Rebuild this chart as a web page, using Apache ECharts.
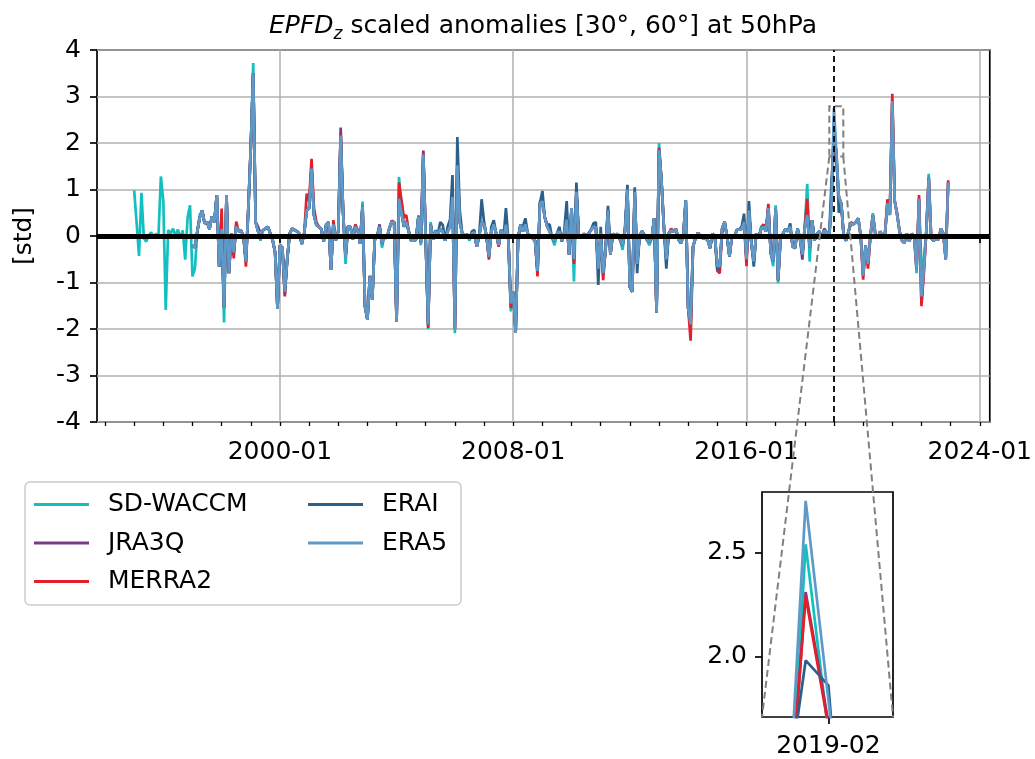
<!DOCTYPE html>
<html>
<head>
<meta charset="utf-8">
<script src="https://cdn.jsdelivr.net/npm/echarts@6/dist/echarts.min.js"></script>
<style>
  html, body { margin: 0; padding: 0; background: #fff; }
  #ec { width: 1035px; height: 759px; }
</style>
</head>
<body>
<div id="ec"></div>
<script>
// monthly scaled anomalies, one row per year (Jan .. Dec)
const waccmStart = 1995;
const sdWaccm = [
  0.98, 0.3, -0.43, 0.93, -0.05, -0.12, 0.02, 0.08, -0.05, 0.05, 0.0, 1.28,
  0.75, -1.59, 0.13, 0.05, 0.16, 0.0, 0.14, -0.05, 0.12, -0.51, 0.4, 0.66,
  -0.87, -0.7, 0.1, 0.45, 0.55, 0.27, 0.3, 0.15, 0.42, 0.3, 0.88, -0.66,
  0.15, -1.86, 0.88, -0.8, 0.05, -0.35, 0.2, 0.1, 0.12, 0.0, -0.55, 0.6,
  1.9, 3.72, 0.3, 0.1, -0.1, 0.12, 0.16, 0.2, 0.06, -0.09, -0.35, -1.57,
  -0.2, -0.25, -1.2, -0.5, 0.05, 0.16, 0.13, 0.1, 0.05, -0.17, 0.06, 0.55,
  0.6, 1.4, 0.45, 0.24, 0.2, 0.15, -0.12, 0.24, 0.3, -0.73, 0.25, -0.09,
  0.1, 2.15, 0.5, -0.6, 0.2, 0.2, -0.07, 0.2, 0.13, -0.16, 0.74, -1.51,
  -1.8, -0.9, -1.37, -0.09, 0.0, 0.2, -0.25, 0.02, -0.05, 0.16, 0.3, 0.3,
  -1.84, 1.27, 0.5, 0.2, 0.3, 0.1, -0.1, -0.1, -0.08, 0.45, -0.2, 1.75,
  -0.1, -2.0, 0.3, -0.08, 0.1, 0.05, 0.15, 0.1, -0.1, 0.1, 0.2, 0.84,
  -2.09, 1.52, 0.3, 0.06, 0.0, 0.03, -0.1, 0.05, 0.08, -0.23, 0.0, 0.3,
  0.25, 0.0, -0.45, 0.1, 0.25, 0.05, -0.2, 0.13, -0.05, 0.24, -0.08, -1.62,
  -1.2, -2.07, -0.05, 0.24, 0.1, 0.25, 0.05, 0.0, -0.05, -0.1, -0.75, 0.75,
  0.75, 0.4, 0.2, 0.1, -0.05, -0.2, 0.05, 0.1, -0.1, 0.05, 0.35, -0.4,
  0.6, -0.98, 0.95, 0.0, -0.03, 0.05, 0.0, 0.05, 0.13, 0.2, 0.18, -0.7,
  0.05, -0.8, -0.3, 0.55, -0.4, 0.05, 0.0, 0.05, -0.08, -0.3, 0.1, 1.0,
  -1.1, -1.2, 0.95, -0.6, 0.0, 0.1, 0.02, -0.08, -0.2, -0.05, 0.38, -1.65,
  2.0, 1.2, 0.2, -0.5, 0.05, 0.12, 0.1, 0.15, -0.08, -0.15, 0.0, 0.77,
  -1.55, -1.95, -0.23, -0.05, 0.07, 0.0, -0.05, -0.05, -0.08, -0.26, 0.05, -0.02,
  -0.65, -0.65, 0.16, 0.3, -0.02, -0.44, 0.0, -0.03, 0.13, 0.14, 0.15, 0.3,
  -0.5, 0.55, -0.15, -0.55, 0.05, -0.05, 0.2, 0.25, 0.1, 0.6, -0.37, -0.65,
  0.66, -1.01, -0.05, 0.05, 0.15, 0.1, 0.2, -0.23, -0.26, 0.16, -0.05, -0.4,
  0.2, 1.12, -0.55, 0.34, -0.1, 0.05, 0.1, -0.05, 0.12, 0.08, -0.05, 0.6,
  2.54, 1.63, 0.84, 0.7, 0.0, -0.1, 0.1, 0.28, 0.25, 0.3, 0.38, 0.0,
  -0.85, -0.2, -0.6, 0.0, 0.49, 0.05, -0.05, 0.1, 0.0, 0.05, 0.7, 0.45,
  2.9, 0.75, 0.45, 0.1, -0.1, -0.15, 0.05, -0.12, 0.05, 0.0, -0.8, 0.8,
  -0.7, -0.5, 0.1, 1.34, -0.05, -0.1, -0.05, -0.08, 0.16, 0.05, -0.5, 1.15
];

// reanalyses start 1997-01
const reStart = 1997;
const jra3q = [
  -0.2, -0.25, 0.1, 0.4, 0.55, 0.27, 0.3, 0.15, 0.42, 0.3, 0.88, -0.66,
  0.15, -1.55, 0.88, -0.8, 0.05, -0.35, 0.2, 0.1, 0.12, 0.0, -0.55, 0.6,
  1.9, 3.5, 0.3, 0.2, 0.05, 0.12, 0.16, 0.2, 0.06, -0.09, -0.35, -1.57,
  -0.2, -0.25, -1.3, -0.5, 0.05, 0.16, 0.13, 0.1, 0.05, -0.17, 0.06, 0.55,
  0.6, 1.5, 0.45, 0.24, 0.2, 0.15, -0.12, 0.24, 0.3, -0.73, 0.25, -0.09,
  0.1, 2.33, 0.5, -0.45, 0.2, 0.2, -0.07, 0.2, 0.13, -0.16, 0.65, -1.51,
  -1.8, -0.87, -1.37, -0.09, 0.0, 0.25, -0.16, 0.02, -0.05, 0.16, 0.3, 0.3,
  -1.84, 0.8, 0.77, 0.2, 0.3, 0.1, -0.1, -0.1, -0.08, 0.41, -0.15, 1.84,
  -0.1, -1.9, 0.25, -0.08, 0.1, 0.05, 0.15, 0.1, -0.1, 0.1, 0.2, 0.84,
  -2.0, 1.52, 0.3, 0.06, 0.0, 0.03, -0.05, 0.05, 0.08, -0.23, 0.0, 0.3,
  0.25, 0.0, -0.45, 0.1, 0.25, 0.05, -0.2, 0.13, -0.05, 0.24, -0.08, -1.45,
  -1.2, -2.07, -0.05, 0.24, 0.1, 0.25, 0.05, 0.0, -0.05, -0.1, -0.75, 0.7,
  0.75, 0.4, 0.2, 0.1, -0.05, -0.1, 0.05, 0.1, -0.1, 0.05, 0.35, -0.4,
  0.6, -0.5, 0.95, 0.0, -0.03, 0.05, 0.0, 0.05, 0.13, 0.2, 0.18, -0.7,
  0.05, -0.8, -0.3, 0.55, -0.4, 0.05, 0.0, 0.05, -0.08, -0.2, 0.1, 1.0,
  -1.1, -1.2, 0.95, -0.6, 0.0, 0.1, 0.02, -0.08, -0.12, -0.05, 0.38, -1.65,
  1.85, 1.2, 0.2, -0.5, 0.05, 0.12, 0.1, 0.15, -0.08, -0.15, 0.0, 0.77,
  -1.55, -2.0, -0.23, -0.05, 0.07, 0.0, -0.05, -0.05, -0.08, -0.26, 0.05, -0.02,
  -0.65, -0.65, 0.16, 0.3, -0.02, -0.44, 0.0, -0.03, 0.13, 0.14, 0.15, 0.3,
  -0.5, 0.55, -0.15, -0.55, 0.05, -0.05, 0.15, 0.2, 0.1, 0.6, -0.37, -0.55,
  0.6, -0.95, -0.05, 0.05, 0.15, 0.1, 0.2, -0.23, -0.26, 0.16, -0.05, -0.51,
  0.2, 0.45, -0.25, 0.34, -0.1, 0.05, 0.1, -0.05, 0.16, 0.08, -0.05, 0.8,
  2.31, 1.68, 0.84, 0.7, 0.0, -0.1, 0.1, 0.28, 0.25, 0.3, 0.38, 0.0,
  -0.85, -0.2, -0.6, 0.0, 0.45, 0.05, -0.05, 0.1, 0.0, 0.05, 0.7, 0.45,
  2.9, 0.75, 0.45, 0.1, -0.1, -0.15, 0.05, -0.12, 0.05, 0.0, -0.7, 0.8,
  -1.45, -0.8, 0.1, 1.25, -0.05, -0.1, -0.05, -0.08, 0.16, 0.05, -0.5, 1.15
];

const merra2 = [
  -0.2, -0.25, 0.1, 0.4, 0.55, 0.27, 0.3, 0.15, 0.42, 0.3, 0.88, -0.66,
  0.59, -1.55, 0.88, -0.8, 0.05, -0.48, 0.31, 0.1, 0.12, 0.0, -0.66, 0.6,
  1.9, 3.5, 0.3, 0.1, 0.05, 0.12, 0.16, 0.2, 0.06, -0.09, -0.35, -1.57,
  -0.2, -0.25, -1.25, -0.5, 0.05, 0.16, 0.13, 0.1, 0.05, -0.17, 0.06, 0.91,
  0.75, 1.66, 0.6, 0.3, 0.2, 0.15, -0.12, 0.24, 0.3, -0.73, 0.34, -0.09,
  0.1, 2.2, 0.5, -0.45, 0.2, 0.2, -0.07, 0.25, 0.13, -0.16, 0.65, -1.51,
  -1.8, -0.85, -1.37, -0.09, 0.0, 0.2, -0.16, 0.02, -0.05, 0.16, 0.33, 0.3,
  -1.84, 1.15, 0.77, 0.4, 0.45, 0.1, -0.1, -0.1, -0.08, 0.41, -0.15, 1.8,
  -0.1, -1.98, 0.25, -0.08, 0.1, 0.05, 0.15, 0.1, -0.1, 0.1, 0.2, 0.84,
  -2.0, 1.52, 0.3, 0.06, 0.0, 0.03, -0.05, 0.05, 0.08, -0.23, 0.0, 0.3,
  0.25, 0.0, -0.51, 0.1, 0.25, 0.05, -0.23, 0.13, -0.05, 0.24, -0.08, -1.55,
  -1.2, -2.07, -0.05, 0.24, 0.1, 0.25, 0.05, 0.0, -0.05, -0.1, -0.87, 0.7,
  0.75, 0.4, 0.2, 0.1, -0.05, -0.1, 0.05, 0.1, -0.12, 0.05, 0.35, -0.4,
  0.6, -0.6, 0.95, 0.0, -0.03, 0.05, 0.0, 0.05, 0.13, 0.2, 0.18, -0.7,
  0.05, -0.95, -0.3, 0.55, -0.4, 0.05, 0.0, 0.05, -0.1, -0.2, 0.1, 1.0,
  -1.1, -1.2, 0.95, -0.6, 0.0, 0.1, 0.02, -0.08, -0.12, -0.05, 0.38, -1.65,
  1.9, 1.2, 0.2, -0.5, 0.05, 0.16, 0.1, 0.15, -0.08, -0.15, 0.0, 0.77,
  -1.55, -2.25, -0.23, -0.05, 0.07, 0.0, -0.05, -0.05, -0.08, -0.26, 0.05, -0.02,
  -0.75, -0.8, 0.16, 0.3, -0.02, -0.44, 0.0, -0.03, 0.13, 0.14, 0.15, 0.3,
  -0.65, 0.55, -0.15, -0.55, 0.05, -0.05, 0.15, 0.25, 0.1, 0.69, -0.37, -0.55,
  0.6, -0.95, -0.05, 0.05, 0.15, 0.1, 0.2, -0.23, -0.26, 0.16, -0.05, -0.4,
  0.2, 0.8, -0.25, 0.34, -0.1, 0.05, 0.1, -0.05, 0.12, 0.08, -0.05, 0.84,
  2.29, 1.66, 0.84, 0.7, 0.0, -0.1, 0.1, 0.3, 0.25, 0.3, 0.38, 0.0,
  -0.94, -0.2, -0.7, 0.0, 0.45, 0.05, -0.05, 0.1, 0.0, 0.05, 0.79, 0.49,
  3.06, 0.75, 0.49, 0.1, -0.1, -0.15, 0.05, -0.12, 0.05, 0.0, -0.7, 0.88,
  -1.51, -0.7, 0.1, 1.25, -0.05, -0.1, -0.05, -0.08, 0.16, 0.05, -0.5, 1.2
];

// ERA-Interim ends 2019-08
const erai = [
  -0.2, -0.25, 0.1, 0.4, 0.55, 0.27, 0.3, 0.15, 0.42, 0.3, 0.88, -0.66,
  0.15, -1.55, 0.88, -0.8, 0.05, -0.35, 0.2, 0.1, 0.12, 0.0, -0.55, 0.6,
  1.9, 3.5, 0.3, 0.1, 0.05, 0.12, 0.16, 0.2, 0.06, -0.09, -0.35, -1.57,
  -0.2, -0.25, -1.2, -0.5, 0.05, 0.16, 0.13, 0.1, 0.05, -0.17, 0.06, 0.55,
  0.6, 1.45, 0.45, 0.24, 0.2, 0.15, -0.12, 0.24, 0.3, -0.73, 0.25, -0.09,
  0.1, 2.16, 0.5, -0.45, 0.2, 0.2, -0.07, 0.2, 0.13, -0.16, 0.65, -1.51,
  -1.8, -0.87, -1.37, -0.09, 0.0, 0.2, -0.16, 0.02, -0.05, 0.16, 0.3, 0.3,
  -1.84, 0.8, 0.5, 0.2, 0.3, 0.1, -0.1, -0.1, -0.08, 0.41, -0.15, 1.75,
  -0.1, -1.9, 0.25, -0.08, 0.12, 0.05, 0.3, 0.24, -0.1, 0.2, 0.35, 1.31,
  -1.75, 2.13, 0.56, 0.06, 0.0, 0.03, -0.05, 0.1, 0.13, -0.23, 0.0, 0.79,
  0.3, 0.0, -0.45, 0.2, 0.34, 0.05, -0.2, 0.13, -0.05, 0.6, -0.08, -1.4,
  -1.2, -2.07, -0.05, 0.24, 0.2, 0.38, 0.05, 0.0, -0.05, -0.1, -0.75, 0.7,
  0.97, 0.4, 0.24, 0.25, -0.05, -0.1, 0.05, 0.2, -0.1, 0.1, 0.75, -0.4,
  0.6, -0.5, 1.15, 0.0, -0.03, 0.05, 0.0, 0.05, 0.13, 0.27, 0.3, -1.05,
  0.2, -0.8, -0.3, 0.65, -0.4, 0.05, 0.0, 0.05, -0.08, -0.2, 0.18, 1.1,
  -1.1, -1.2, 1.05, -0.8, 0.0, 0.1, 0.02, -0.08, -0.12, -0.05, 0.38, -1.65,
  1.85, 1.2, 0.2, -0.7, 0.05, 0.12, 0.1, 0.15, -0.08, -0.15, 0.0, 0.77,
  -1.55, -1.75, -0.23, -0.05, 0.07, 0.0, -0.05, -0.05, -0.08, -0.26, 0.05, -0.02,
  -0.73, -0.65, 0.16, 0.3, -0.02, -0.44, 0.0, -0.03, 0.13, 0.14, 0.2, 0.48,
  -0.5, 0.75, -0.15, -0.66, 0.05, -0.05, 0.15, 0.2, 0.1, 0.6, -0.37, -0.55,
  0.6, -0.95, -0.05, 0.05, 0.15, 0.1, 0.27, -0.23, -0.26, 0.16, -0.05, -0.4,
  0.2, 0.45, -0.25, 0.34, -0.1, 0.05, 0.1, -0.05, 0.12, 0.08, -0.05, 1.2,
  1.98, 1.86, 0.5, 0.7, 0.0, -0.1, 0.1, 0.28
];

const era5 = [
  -0.2, -0.25, 0.1, 0.4, 0.55, 0.27, 0.3, 0.15, 0.42, 0.3, 0.88, -0.66,
  0.15, -1.55, 0.88, -0.8, 0.05, -0.35, 0.2, 0.1, 0.12, 0.0, -0.55, 0.6,
  1.9, 3.5, 0.3, 0.1, 0.05, 0.12, 0.16, 0.2, 0.06, -0.09, -0.35, -1.57,
  -0.2, -0.25, -1.2, -0.5, 0.05, 0.16, 0.13, 0.1, 0.05, -0.17, 0.06, 0.55,
  0.6, 1.45, 0.45, 0.24, 0.2, 0.15, -0.12, 0.24, 0.3, -0.73, 0.25, -0.09,
  0.1, 2.16, 0.5, -0.45, 0.2, 0.2, -0.07, 0.2, 0.13, -0.16, 0.65, -1.51,
  -1.8, -0.87, -1.37, -0.09, 0.0, 0.2, -0.16, 0.02, -0.05, 0.16, 0.3, 0.3,
  -1.84, 0.8, 0.5, 0.2, 0.3, 0.1, -0.1, -0.1, -0.08, 0.41, -0.15, 1.75,
  -0.1, -1.9, 0.25, -0.08, 0.1, 0.05, 0.15, 0.1, -0.1, 0.1, 0.2, 0.84,
  -2.0, 1.52, 0.3, 0.06, 0.0, 0.03, -0.05, 0.05, 0.08, -0.23, 0.0, 0.3,
  0.25, 0.0, -0.45, 0.1, 0.25, 0.05, -0.2, 0.13, -0.05, 0.24, -0.08, -1.45,
  -1.2, -2.07, -0.05, 0.24, 0.1, 0.25, 0.05, 0.0, -0.05, -0.1, -0.75, 0.7,
  0.75, 0.4, 0.2, 0.1, -0.05, -0.1, 0.05, 0.1, -0.1, 0.05, 0.35, -0.4,
  0.6, -0.5, 0.95, 0.0, -0.03, 0.05, 0.0, 0.05, 0.13, 0.2, 0.18, -0.7,
  0.05, -0.8, -0.3, 0.55, -0.4, 0.05, 0.0, 0.05, -0.08, -0.2, 0.1, 1.0,
  -1.1, -1.2, 0.95, -0.6, 0.0, 0.1, 0.02, -0.08, -0.12, -0.05, 0.38, -1.65,
  1.85, 1.2, 0.2, -0.5, 0.05, 0.12, 0.1, 0.15, -0.08, -0.15, 0.0, 0.77,
  -1.55, -1.9, -0.23, -0.05, 0.07, 0.0, -0.05, -0.05, -0.08, -0.26, 0.05, -0.02,
  -0.65, -0.65, 0.16, 0.3, -0.02, -0.44, 0.0, -0.03, 0.13, 0.14, 0.15, 0.3,
  -0.5, 0.55, -0.15, -0.55, 0.05, -0.05, 0.15, 0.2, 0.1, 0.6, -0.37, -0.55,
  0.6, -0.95, -0.05, 0.05, 0.15, 0.1, 0.2, -0.23, -0.26, 0.16, -0.05, -0.4,
  0.2, 0.45, -0.25, 0.34, -0.1, 0.05, 0.1, -0.05, 0.12, 0.08, -0.05, 0.75,
  2.75, 1.79, 0.84, 0.7, 0.0, -0.1, 0.1, 0.28, 0.25, 0.3, 0.38, 0.0,
  -0.85, -0.2, -0.6, 0.0, 0.45, 0.05, -0.05, 0.1, 0.0, 0.05, 0.7, 0.45,
  2.9, 0.75, 0.45, 0.1, -0.1, -0.15, 0.05, -0.12, 0.05, 0.0, -0.7, 0.8,
  -1.3, -0.7, 0.1, 1.25, -0.05, -0.1, -0.05, -0.08, 0.16, 0.05, -0.5, 1.15
];

const seriesNames = ["SD-WACCM", "JRA3Q", "MERRA2", "ERAI", "ERA5"];
const seriesColors = ["#14bfbf", "#763c86", "#e3202a", "#2d5f8b", "#5f99c8"];
const majorYears = [2000, 2008, 2016, 2024];
const minorYears = [1994, 1995, 1996, 1997, 1998, 1999, 2000, 2001, 2002, 2003, 2004, 2005, 2006,
  2007, 2008, 2009, 2010, 2011, 2012, 2013, 2014, 2015, 2016, 2017, 2018, 2019, 2020, 2021,
  2022, 2023, 2024];
const eventMonth = 2019.0;           // 2019-01, dashed marker
const zoomX = [2018.84, 2019.32];    // inset window (years)
const zoomY = [1.707, 2.793];
const insetXTicks = [2019 + 1 / 12]; // 2019-02
const insetYTicks = [2.0, 2.5];

const FONT = "DejaVu Sans";

function toPoints(start, values) {
  return values.map((v, i) => [start + i / 12, v]);
}
function fmtMonth(v) {
  const y = Math.floor(v + 1e-6);
  const m = Math.round((v - y) * 12) + 1;
  return y + "-" + (m < 10 ? "0" + m : m);
}

const allData = [
  toPoints(waccmStart, sdWaccm),
  toPoints(reStart, jra3q),
  toPoints(reStart, merra2),
  toPoints(reStart, erai),
  toPoints(reStart, era5),
];

const series = [];
allData.forEach((d, i) => {
  series.push({
    name: seriesNames[i],
    type: "line",
    xAxisIndex: 0,
    yAxisIndex: 0,
    data: d,
    symbol: "none",
    lineStyle: { width: 2.7, color: seriesColors[i] },
    itemStyle: { color: seriesColors[i] },
    z: 2,
  });
});
// zero line, event marker and zoom box sit on top of ERA5
series[4].markLine = {
  silent: true,
  symbol: ["none", "none"],
  label: { show: false },
  data: [
    { yAxis: 0, lineStyle: { color: "#000", width: 5, type: "solid" } },
    { xAxis: eventMonth, lineStyle: { color: "#000", width: 1.8, type: [6, 4] } },
  ],
};
series[4].markArea = {
  silent: true,
  itemStyle: { color: "rgba(0,0,0,0)", borderColor: "#808080", borderWidth: 2, borderType: [7, 4] },
  data: [[{ coord: [zoomX[0], zoomY[0]] }, { coord: [zoomX[1], zoomY[1]] }]],
};
// inset copies
allData.forEach((d, i) => {
  series.push({
    name: seriesNames[i],
    type: "line",
    xAxisIndex: 2,
    yAxisIndex: 1,
    data: d,
    symbol: "none",
    lineStyle: { width: 2.7, color: seriesColors[i] },
    itemStyle: { color: seriesColors[i] },
  });
});

const legendBase = {
  orient: "vertical",
  top: 492,
  padding: 0,
  icon: "rect",
  itemWidth: 55,
  itemHeight: 3,
  itemGap: 13.5,
  selectedMode: false,
  textStyle: { fontFamily: FONT, fontSize: 25, color: "#000", lineHeight: 25, padding: [0, 0, 0, 14] },
};

const domChart = document.getElementById("ec");
const myChart = echarts.init(domChart);
myChart.setOption({
  animation: false,
  backgroundColor: "#fff",
  title: {
    text: "{i|EPFD}{s|z}{n| scaled anomalies [30°, 60°] at 50hPa}",
    left: 543,
    top: 9,
    textAlign: "center",
    padding: 0,
    textStyle: {
      fontWeight: "normal",
      rich: {
        i: { fontFamily: FONT, fontStyle: "italic", fontWeight: "normal", fontSize: 25, color: "#000", lineHeight: 34 },
        s: { fontFamily: FONT, fontStyle: "italic", fontWeight: "normal", fontSize: 17, color: "#000", lineHeight: 18, verticalAlign: "bottom" },
        n: { fontFamily: FONT, fontWeight: "normal", fontSize: 25, color: "#000", lineHeight: 34 },
      },
    },
  },
  legend: [
    Object.assign({}, legendBase, { left: 34, data: seriesNames.slice(0, 3) }),
    Object.assign({}, legendBase, { left: 308, data: seriesNames.slice(3) }),
  ],
  grid: [
    { left: 97, top: 50, width: 893, height: 372, show: true, borderColor: "#000", borderWidth: 1.7, backgroundColor: "transparent" },
    { left: 762, top: 492, width: 131, height: 226, show: true, borderColor: "#000", borderWidth: 1.7, backgroundColor: "#fff" },
  ],
  xAxis: [
    {
      type: "value",
      gridIndex: 0,
      min: 1993.726,
      max: 2024.343,
      axisLine: { show: false },
      axisTick: { show: true, length: 7, customValues: majorYears, lineStyle: { color: "#000", width: 1.7 } },
      axisLabel: { customValues: majorYears, formatter: fmtMonth, fontFamily: FONT, fontSize: 25, color: "#000", margin: 18 },
      splitLine: { show: true, lineStyle: { color: "#b0b0b0", width: 1.5 } },
    },
    {
      type: "value",
      gridIndex: 0,
      position: "bottom",
      min: 1993.726,
      max: 2024.343,
      axisLine: { show: false },
      axisTick: { show: true, length: 4, customValues: minorYears, lineStyle: { color: "#000", width: 1.3 } },
      axisLabel: { show: false },
      splitLine: { show: false },
    },
    {
      type: "value",
      gridIndex: 1,
      min: zoomX[0],
      max: zoomX[1],
      axisLine: { show: false },
      axisTick: { show: true, length: 7, customValues: insetXTicks, lineStyle: { color: "#000", width: 1.7 } },
      axisLabel: { customValues: insetXTicks, formatter: fmtMonth, fontFamily: FONT, fontSize: 25, color: "#000", margin: 17 },
      splitLine: { show: false },
    },
  ],
  yAxis: [
    {
      type: "value",
      gridIndex: 0,
      min: -4,
      max: 4,
      interval: 1,
      name: "[std]",
      nameLocation: "middle",
      nameRotate: 90,
      nameGap: 60,
      nameTextStyle: { fontFamily: FONT, fontSize: 25, color: "#000" },
      axisLine: { show: false },
      axisTick: { show: true, length: 7, lineStyle: { color: "#000", width: 1.7 } },
      axisLabel: { fontFamily: FONT, fontSize: 25, color: "#000", margin: 16 },
      splitLine: { show: true, lineStyle: { color: "#b0b0b0", width: 1.5 } },
    },
    {
      type: "value",
      gridIndex: 1,
      min: zoomY[0],
      max: zoomY[1],
      axisLine: { show: false },
      axisTick: { show: true, length: 7, customValues: insetYTicks, lineStyle: { color: "#000", width: 1.7 } },
      axisLabel: { customValues: insetYTicks, formatter: (v) => v.toFixed(1), fontFamily: FONT, fontSize: 25, color: "#000", margin: 15 },
      splitLine: { show: false },
    },
  ],
  series: series,
});

// legend frame + connector lines from the zoom box to the inset
const boxL = myChart.convertToPixel({ xAxisIndex: 0, yAxisIndex: 0 }, [zoomX[0], zoomY[0]]);
const boxR = myChart.convertToPixel({ xAxisIndex: 0, yAxisIndex: 0 }, [zoomX[1], zoomY[0]]);
const insL = myChart.convertToPixel({ xAxisIndex: 2, yAxisIndex: 1 }, [zoomX[0], zoomY[0]]);
const insR = myChart.convertToPixel({ xAxisIndex: 2, yAxisIndex: 1 }, [zoomX[1], zoomY[0]]);
const dash = { stroke: "#808080", lineWidth: 2, lineDash: [7, 4] };
myChart.setOption({
  graphic: [
    {
      type: "rect",
      z: -1,
      shape: { x: 25, y: 482, width: 436, height: 123, r: 5 },
      style: { fill: "#fff", stroke: "#cccccc", lineWidth: 1.5 },
    },
    { type: "line", z: 100, shape: { x1: boxL[0], y1: boxL[1], x2: insL[0], y2: insL[1] }, style: dash },
    { type: "line", z: 100, shape: { x1: boxR[0], y1: boxR[1], x2: insR[0], y2: insR[1] }, style: dash },
  ],
});
</script>
</body>
</html>
